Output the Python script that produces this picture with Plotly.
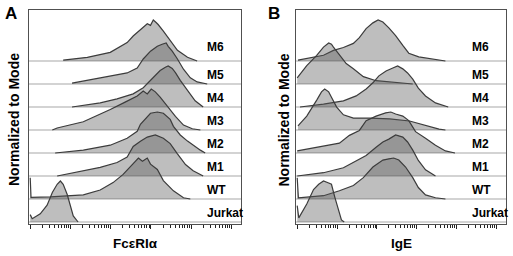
import numpy as np
import plotly.graph_objects as go

ROWS = ["Jurkat", "WT", "M1", "M2", "M3", "M4", "M5", "M6"]
TITLES_X = ["FcεRIα", "IgE"]
PANEL_LETTERS = ["A", "B"]
TICK_DECADES = [0, 1, 2, 3, 4, 5]

# ---------- Panel A (FcεRIα): log10 intensity and % of mode ----------
A_JURKAT_LOG = [0.0, 0.05, 0.25, 0.42, 0.55, 0.67, 0.75, 0.82, 0.92, 1.0, 1.07, 1.19]
A_JURKAT_PCT = [18, 8, 20, 41, 72, 92, 100, 92, 67, 36, 15, 0]
A_WT_LOG = [0.0, 0.02, 0.5, 1.32, 1.74, 2.06, 2.31, 2.54, 2.69, 2.79, 2.91, 2.99, 3.16, 3.31, 3.56, 3.81, 3.98]
A_WT_PCT = [52, 4, 5, 10, 22, 40, 60, 85, 100, 92, 100, 85, 72, 45, 20, 3, 0]
A_M1_LOG = [0.67, 1.32, 1.74, 2.16, 2.41, 2.56, 2.74, 2.91, 3.11, 3.31, 3.48, 3.66, 3.86, 4.05, 4.30]
A_M1_PCT = [0, 13, 21, 33, 46, 72, 85, 95, 100, 92, 79, 54, 28, 13, 0]
A_M2_LOG = [0.62, 1.32, 1.99, 2.41, 2.66, 2.74, 2.99, 3.16, 3.31, 3.48, 3.56, 3.73, 3.91, 4.10, 4.23, 4.35]
A_M2_PCT = [0, 7, 19, 36, 53, 70, 97, 100, 97, 82, 65, 44, 29, 15, 7, 0]
A_M3_LOG = [0.55, 0.67, 1.32, 1.74, 1.99, 2.36, 2.66, 2.81, 2.91, 3.01, 3.11, 3.23, 3.41, 3.61, 3.81, 4.03, 4.23]
A_M3_PCT = [0, 5, 20, 38, 50, 68, 83, 95, 88, 100, 93, 80, 58, 33, 12, 3, 0]
A_M4_LOG = [1.04, 1.74, 2.16, 2.56, 2.81, 3.06, 3.23, 3.36, 3.43, 3.53, 3.61, 3.73, 3.91, 4.10, 4.30]
A_M4_PCT = [0, 10, 20, 32, 47, 72, 89, 97, 100, 94, 84, 65, 40, 15, 0]
A_M5_LOG = [1.04, 1.57, 1.99, 2.41, 2.66, 2.81, 2.99, 3.16, 3.28, 3.38, 3.43, 3.53, 3.66, 3.81, 3.98, 4.15, 4.40]
A_M5_PCT = [2, 12, 19, 27, 39, 61, 80, 92, 97, 100, 92, 80, 61, 36, 15, 5, 0]
A_M6_LOG = [0.82, 1.42, 1.99, 2.19, 2.41, 2.56, 2.74, 2.91, 2.99, 3.06, 3.13, 3.18, 3.31, 3.48, 3.66, 3.91, 4.15]
A_M6_PCT = [2, 9, 21, 33, 45, 61, 77, 91, 87, 100, 94, 89, 73, 49, 26, 9, 0]

# ---------- Panel B (IgE) ----------
B_JURKAT_LOG = [0.0, 0.04, 0.24, 0.41, 0.54, 0.66, 0.79, 0.86, 0.94, 1.03, 1.11, 1.18]
B_JURKAT_PCT = [40, 10, 44, 79, 92, 100, 95, 92, 62, 28, 5, 0]
B_WT_LOG = [0.0, 0.03, 0.66, 1.06, 1.41, 1.66, 1.90, 2.15, 2.30, 2.42, 2.55, 2.72, 2.90, 3.04, 3.22, 3.47, 3.72]
B_WT_PCT = [52, 3, 8, 20, 33, 52, 78, 95, 98, 100, 95, 78, 52, 28, 10, 3, 0]
B_M1_LOG = [0.0, 0.66, 1.16, 1.48, 1.73, 1.98, 2.15, 2.30, 2.47, 2.65, 2.77, 2.90, 3.04, 3.22, 3.47]
B_M1_PCT = [0, 8, 20, 38, 50, 70, 83, 90, 100, 95, 83, 63, 38, 15, 0]
B_M2_LOG = [0.0, 0.66, 1.06, 1.31, 1.56, 1.73, 1.98, 2.22, 2.35, 2.47, 2.65, 2.80, 2.97, 3.22, 3.47, 3.72, 3.96]
B_M2_PCT = [5, 17, 24, 43, 55, 79, 90, 98, 100, 95, 90, 79, 52, 36, 19, 5, 0]
B_M3_LOG = [0.02, 0.24, 0.49, 0.61, 0.69, 0.79, 0.86, 0.99, 1.16, 1.41, 1.83, 2.32, 2.82, 3.19, 3.56, 3.72]
B_M3_PCT = [10, 34, 73, 93, 100, 93, 80, 56, 37, 29, 29, 27, 22, 12, 2, 0]
B_M4_LOG = [0.07, 0.66, 1.16, 1.48, 1.73, 1.90, 2.05, 2.23, 2.40, 2.52, 2.65, 2.77, 2.90, 3.04, 3.22, 3.47, 3.79]
B_M4_PCT = [0, 7, 15, 27, 44, 59, 76, 88, 95, 100, 93, 83, 68, 46, 27, 10, 0]
B_M5_LOG = [0.0, 0.24, 0.49, 0.66, 0.79, 0.86, 0.91, 1.06, 1.23, 1.41, 1.66, 1.98, 2.47, 2.90]
B_M5_PCT = [15, 45, 70, 90, 100, 97, 90, 70, 50, 37, 18, 8, 3, 0]
B_M6_LOG = [0.02, 0.32, 0.66, 0.91, 1.16, 1.41, 1.56, 1.73, 1.90, 2.03, 2.15, 2.30, 2.47, 2.65, 2.80, 3.05, 3.39, 3.72]
B_M6_PCT = [2, 7, 14, 26, 33, 43, 57, 79, 93, 100, 95, 81, 62, 38, 19, 10, 5, 0]

PANELS = [
    [(A_JURKAT_LOG, A_JURKAT_PCT), (A_WT_LOG, A_WT_PCT), (A_M1_LOG, A_M1_PCT), (A_M2_LOG, A_M2_PCT),
     (A_M3_LOG, A_M3_PCT), (A_M4_LOG, A_M4_PCT), (A_M5_LOG, A_M5_PCT), (A_M6_LOG, A_M6_PCT)],
    [(B_JURKAT_LOG, B_JURKAT_PCT), (B_WT_LOG, B_WT_PCT), (B_M1_LOG, B_M1_PCT), (B_M2_LOG, B_M2_PCT),
     (B_M3_LOG, B_M3_PCT), (B_M4_LOG, B_M4_PCT), (B_M5_LOG, B_M5_PCT), (B_M6_LOG, B_M6_PCT)],
]

# stagger geometry (in y-axis units = pixels of the plot box)
ROW_STEP = 23.0
ROW_BASE = 2.0
PEAK = 41.0
Y_TOP = 214.0
X_RANGE_LOG = [-0.03, 5.24]

FILL = "rgba(86,86,86,0.385)"
EDGE = "#3c3c3c"
BASEL = "#c4c4c4"
FONT = "Arial, Liberation Sans, sans-serif"

fig = go.Figure()

for p, hists in enumerate(PANELS):
    xa = "x" if p == 0 else "x2"
    ya = "y" if p == 0 else "y2"
    xmin, xmax = 10 ** X_RANGE_LOG[0], 10 ** X_RANGE_LOG[1]
    # baselines
    for k in range(len(ROWS)):
        b = ROW_BASE + k * ROW_STEP
        fig.add_trace(go.Scatter(x=[xmin, xmax], y=[b, b], mode="lines",
                                 line=dict(color=BASEL, width=1.5),
                                 xaxis=xa, yaxis=ya, hoverinfo="skip", showlegend=False))
    # histograms, drawn from top row to bottom row
    for k in reversed(range(len(ROWS))):
        lx, pct = hists[k]
        b = ROW_BASE + k * ROW_STEP
        xs = [10 ** v for v in lx]
        ys = [b + v / 100.0 * PEAK for v in pct]
        fig.add_trace(go.Scatter(x=xs + [xs[-1], xs[0]], y=ys + [b, b], mode="lines",
                                 fill="toself", fillcolor=FILL, line=dict(width=0),
                                 xaxis=xa, yaxis=ya, hoverinfo="skip", showlegend=False))
        fig.add_trace(go.Scatter(x=xs, y=ys, mode="lines",
                                 line=dict(color=EDGE, width=1.2),
                                 xaxis=xa, yaxis=ya, hoverinfo="skip", showlegend=False))
    # row labels
    for k, name in enumerate(ROWS):
        b = ROW_BASE + k * ROW_STEP
        off = 14.5 if k == len(ROWS) - 1 else 9.5
        fig.add_annotation(x=0.83, xref=("x domain" if p == 0 else "x2 domain"),
                           y=b + off, yref=ya, text="<b>%s</b>" % name, showarrow=False,
                           xanchor="left", yanchor="middle",
                           font=dict(family=FONT, size=12, color="black"))

major = [10 ** d for d in TICK_DECADES]
minor = [m * 10 ** d for d in TICK_DECADES for m in range(2, 10) if np.log10(m * 10 ** d) < X_RANGE_LOG[1]]

xaxis_common = dict(type="log", range=X_RANGE_LOG, showgrid=False, zeroline=False,
                    showline=True, linecolor="#505050", linewidth=1.3, mirror=True,
                    tickvals=major, ticks="outside", ticklen=4, tickwidth=1.3, tickcolor="#222",
                    showticklabels=False,
                    minor=dict(tickvals=minor, ticks="outside", ticklen=2.5, tickwidth=1, tickcolor="#222", showgrid=False),
                    title=None)
yaxis_common = dict(range=[0, Y_TOP], showgrid=False, zeroline=False, showline=True,
                    linecolor="#505050", linewidth=1.3, mirror=True, ticks="", showticklabels=False)

W, H = 513, 256
fig.update_layout(
    width=W, height=H, margin=dict(l=0, r=0, t=0, b=0),
    paper_bgcolor="white", plot_bgcolor="white",
    xaxis=dict(domain=[29 / W, 241 / W], anchor="y", **xaxis_common),
    yaxis=dict(domain=[1 - 224 / H, 1 - 10 / H], anchor="x", **yaxis_common),
    xaxis2=dict(domain=[296 / W, 506 / W], anchor="y2", **xaxis_common),
    yaxis2=dict(domain=[1 - 224 / H, 1 - 10 / H], anchor="x2", **yaxis_common),
)

# axis titles and panel letters
for p, (cx, ytx, lx) in enumerate([(135, 14, 11), (401, 283.5, 274)]):
    fig.add_annotation(x=cx / W, y=1 - 243 / H, xref="paper", yref="paper",
                       text="<b>%s</b>" % TITLES_X[p], showarrow=False,
                       xanchor="center", yanchor="middle",
                       font=dict(family=FONT, size=13.5, color="black"))
    fig.add_annotation(x=ytx / W, y=1 - 120 / H, xref="paper", yref="paper",
                       text="<b>Normalized to Mode</b>", showarrow=False, textangle=-90,
                       xanchor="center", yanchor="middle",
                       font=dict(family=FONT, size=14, color="black"))
    fig.add_annotation(x=lx / W, y=1 - 13 / H, xref="paper", yref="paper",
                       text="<b>%s</b>" % PANEL_LETTERS[p], showarrow=False,
                       xanchor="center", yanchor="middle",
                       font=dict(family=FONT, size=17, color="black"))

fig.write_html("out.html", config={"displayModeBar": False},
               post_script="document.body.style.margin='0';document.body.style.overflow='hidden';")
